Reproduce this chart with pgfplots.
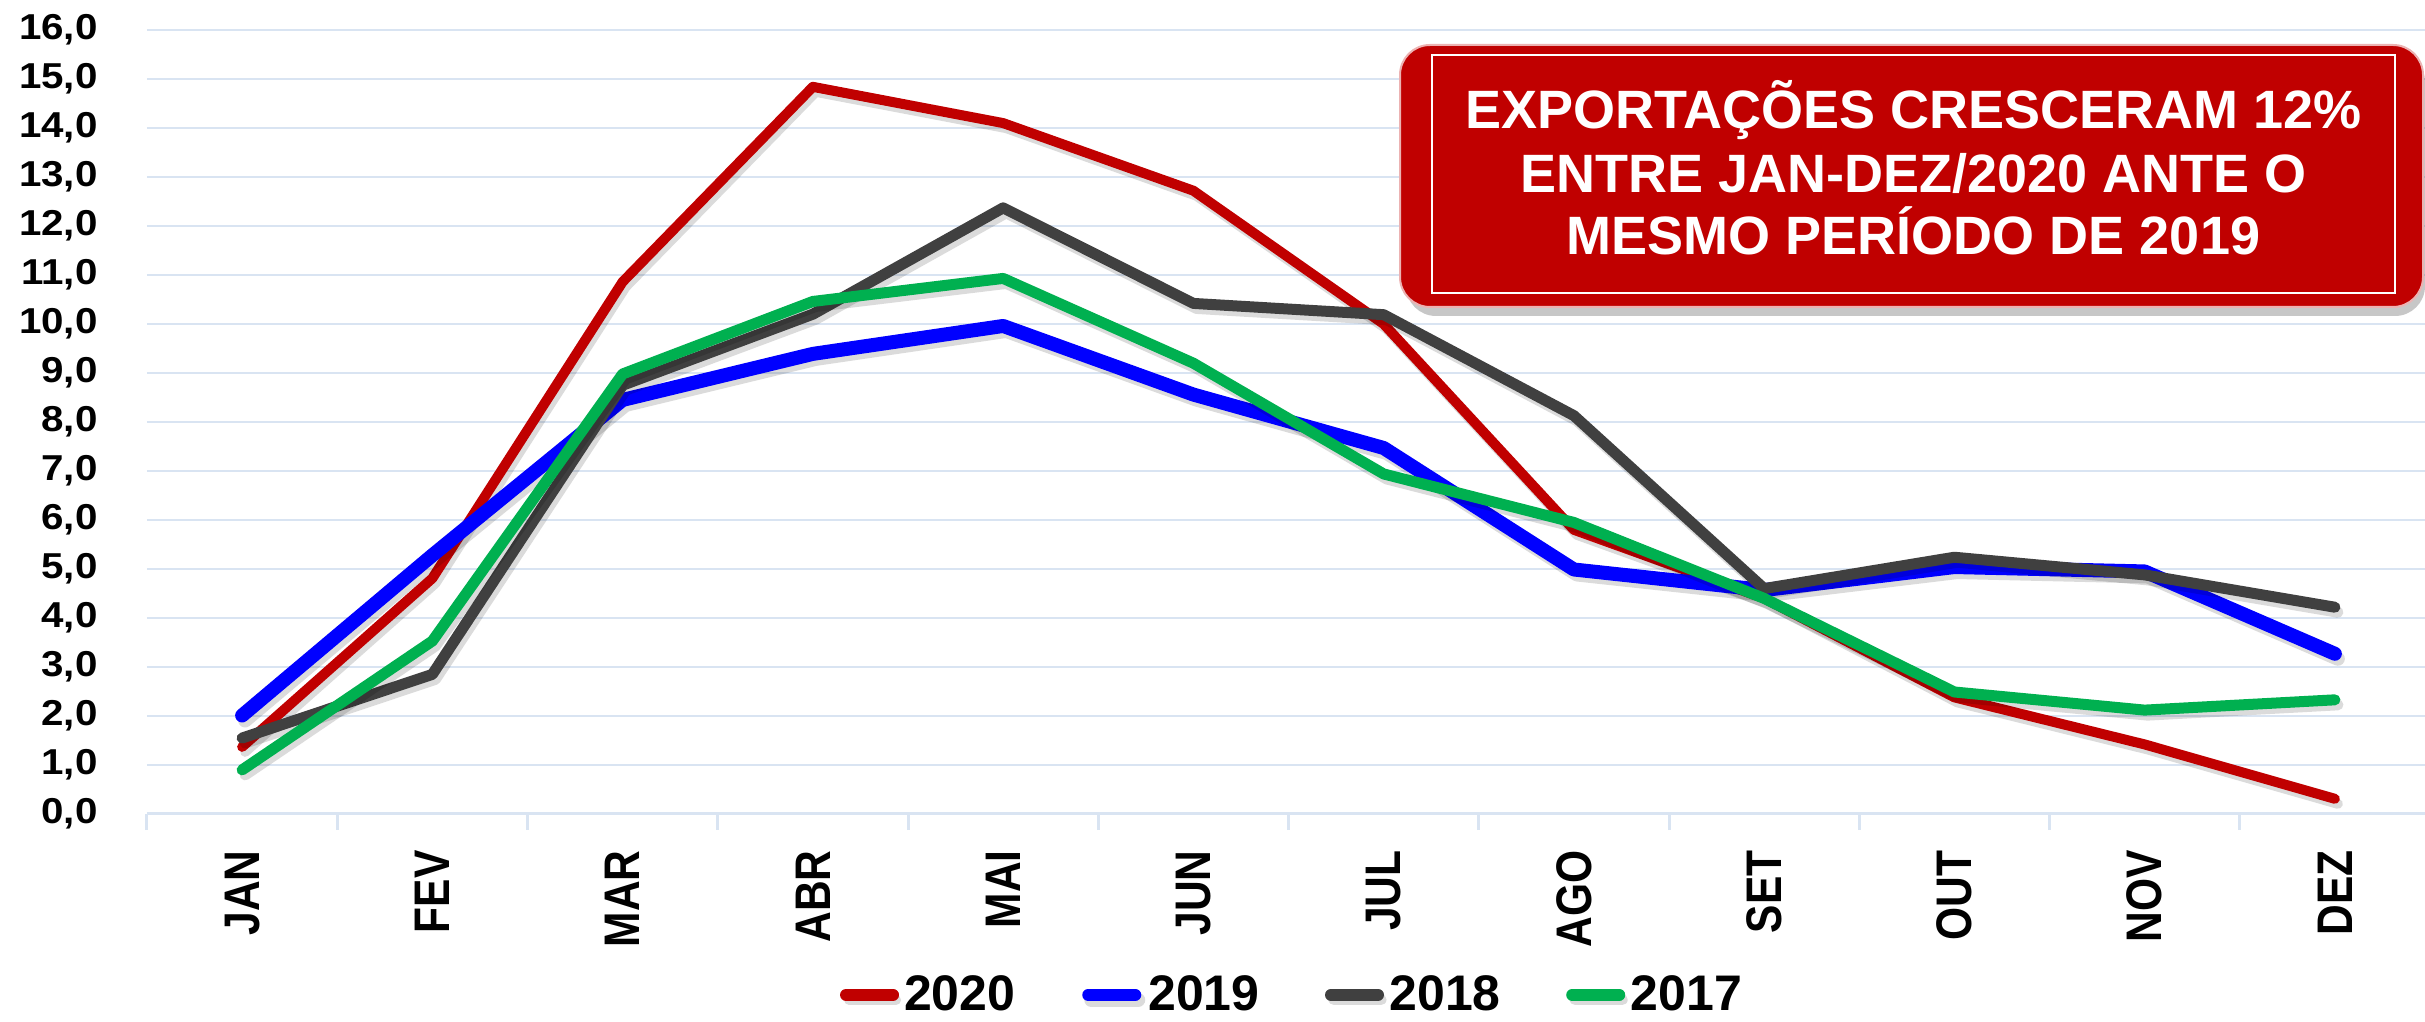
\documentclass[border=0pt]{standalone}
\usepackage{pgfplots}
\pgfplotsset{compat=1.18}
\usepackage{fontspec}
\setmainfont{Liberation Sans}
\definecolor{c2020}{HTML}{C00000}
\definecolor{c2019}{HTML}{0000FF}
\definecolor{c2018}{HTML}{404040}
\definecolor{c2017}{HTML}{00B050}
\definecolor{gridc}{HTML}{D9E4F2}
\tikzset{shad/.style={preaction={draw=black, opacity=0.14, transform canvas={xshift=1.5pt, yshift=-2.5pt}}}}
\begin{document}
\begin{tikzpicture}
\path[use as bounding box] (0,0) rectangle (1212.5pt,511pt);
\begin{axis}[
  at={(73.5pt,104pt)}, anchor=south west,
  scale only axis, width=1141.5pt, height=392pt,
  xmin=-0.5, xmax=11.5, ymin=0, ymax=16,
  axis x line*=bottom, axis y line*=left,
  y axis line style={draw=none},
  x axis line style={draw=gridc, line width=1.5pt, -},
  xtick={0,...,11},
  xticklabels={\scalebox{0.85}[1]{JAN},\scalebox{0.85}[1]{FEV},\scalebox{0.85}[1]{MAR},\scalebox{0.85}[1]{ABR},\scalebox{0.85}[1]{MAI},\scalebox{0.85}[1]{JUN},\scalebox{0.85}[1]{JUL},\scalebox{0.85}[1]{AGO},\scalebox{0.85}[1]{SET},\scalebox{0.85}[1]{OUT},\scalebox{0.85}[1]{NOV},\scalebox{0.85}[1]{DEZ}},
  minor xtick={-0.5,0.5,...,11.5},
  major tick length=0pt,
  minor tick length=8pt,
  tick align=outside,
  minor x tick style={draw=gridc, line width=1.5pt},
  ytick={0,1,...,16},
  ytick style={draw=none},
  ymajorgrids,
  grid style={draw=gridc, line width=1.2pt},
  yticklabel={\scalebox{1.12}[1]{\pgfmathprintnumber{\tick}}},
  yticklabel style={font=\fontsize{18}{18}\selectfont\bfseries, inner sep=0pt, xshift=-24.5pt,
    /pgf/number format/.cd, fixed, fixed zerofill, precision=1, use comma, assume math mode=true},
  xticklabel style={font=\fontsize{25}{25}\selectfont\bfseries, yshift=-18pt, rotate=90, anchor=east, inner sep=0pt},
  legend style={draw=none, fill=none, at={(0.5,-0.206)}, anchor=north, legend columns=-1,
    font=\fontsize{25}{25}\selectfont\bfseries, inner sep=0pt, nodes={inner sep=0pt},
    /tikz/every even column/.append style={column sep=30pt}},
  legend image code/.code={\path (0pt,0pt) (29.5pt,0pt); \draw[#1, line width=6pt, line cap=round, preaction={draw=none}] (3pt,0pt) -- (26.5pt,0pt);},
  every axis plot/.append style={line cap=round, line join=round},
  clip=false,
]
\addplot[c2020, line width=5pt, shad] coordinates {(0,1.37)(1,4.81)(2,10.86)(3,14.84)(4,14.10)(5,12.72)(6,10.0)(7,5.8)(8,4.4)(9,2.38)(10,1.42)(11,0.31)};
\addlegendentry{2020}
\addplot[c2019, line width=7pt, shad] coordinates {(0,2.01)(1,5.28)(2,8.45)(3,9.39)(4,9.96)(5,8.56)(6,7.47)(7,4.99)(8,4.57)(9,5.04)(10,4.95)(11,3.27)};
\addlegendentry{2019}
\addplot[c2018, line width=5.5pt, shad] coordinates {(0,1.55)(1,2.85)(2,8.75)(3,10.2)(4,12.37)(5,10.42)(6,10.19)(7,8.13)(8,4.6)(9,5.24)(10,4.88)(11,4.22)};
\addlegendentry{2018}
\addplot[c2017, line width=5.5pt, shad] coordinates {(0,0.9)(1,3.53)(2,8.98)(3,10.46)(4,10.93)(5,9.2)(6,6.94)(7,5.95)(8,4.4)(9,2.49)(10,2.12)(11,2.33)};
\addlegendentry{2017}
\end{axis}
% title box
\fill[black, opacity=0.22, rounded corners=15pt] (703pt,353pt) rectangle (1212.5pt,485pt);
\fill[c2020, rounded corners=15pt] (700pt,357.5pt) rectangle (1211.5pt,488.5pt);
\draw[white!70!c2020, line width=1pt, rounded corners=15pt] (700pt,357.5pt) rectangle (1211.5pt,488.5pt);
\draw[white, line width=1.2pt] (716pt,364.5pt) rectangle (1197.5pt,483.5pt);
\node[text=white, font=\fontsize{27}{27}\selectfont\bfseries, anchor=base, inner sep=0pt] at (956.75pt,446.5pt) {EXPORTAÇÕES CRESCERAM 12\%};
\node[text=white, font=\fontsize{27}{27}\selectfont\bfseries, anchor=base, inner sep=0pt] at (956.75pt,414.5pt) {ENTRE JAN-DEZ/2020 ANTE O};
\node[text=white, font=\fontsize{27}{27}\selectfont\bfseries, anchor=base, inner sep=0pt] at (956.75pt,383.5pt) {MESMO PERÍODO DE 2019};
\end{tikzpicture}
\end{document}
